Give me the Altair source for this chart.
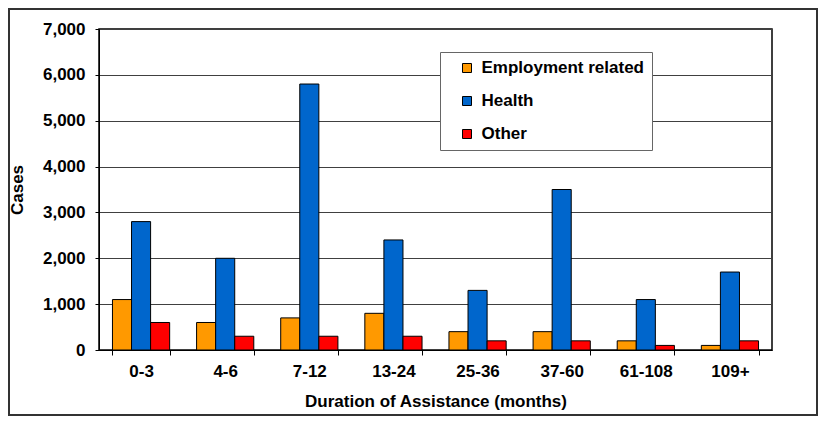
import altair as alt
import pandas as pd

durations = ["0-3", "4-6", "7-12", "13-24", "25-36", "37-60", "61-108", "109+"]
categories = ["Employment related", "Health", "Other"]
employment = [1100, 600, 700, 800, 400, 400, 200, 100]
health = [2800, 2000, 5800, 2400, 1300, 3500, 1100, 1700]
other = [600, 300, 300, 300, 200, 200, 100, 200]
colors = ["#FF9900", "#0066CC", "#FF0000"]
y_ticks = [0, 1000, 2000, 3000, 4000, 5000, 6000, 7000]

rows = []
for series_name, series in zip(categories, [employment, health, other]):
    for d, v in zip(durations, series):
        rows.append({"duration": d, "category": series_name, "value": v})
df = pd.DataFrame(rows)

FONT = "Liberation Sans"
FS = 17
W, H = 673, 321

bars = alt.Chart(df).mark_bar(stroke="black", strokeWidth=1).encode(
    x=alt.X(
        "duration:N",
        sort=durations,
        scale=alt.Scale(paddingInner=0.32, paddingOuter=0.16),
        axis=alt.Axis(
            title="Duration of Assistance (months)",
            labelAngle=0,
            tickBand="extent",
            tickSize=5,
            tickColor="black",
            domainColor="black",
            labelFont=FONT,
            labelFontSize=FS,
            labelFontWeight="bold",
            labelColor="black",
            labelPadding=8,
            titleFont=FONT,
            titleFontSize=FS,
            titleFontWeight="bold",
            titleColor="black",
            titlePadding=14,
        ),
    ),
    xOffset=alt.XOffset("category:N", sort=categories, scale=alt.Scale(paddingInner=0, paddingOuter=0)),
    y=alt.Y(
        "value:Q",
        scale=alt.Scale(domain=[0, 7000], nice=False),
        axis=alt.Axis(
            title="Cases",
            values=y_ticks,
            format=",.0f",
            grid=True,
            gridColor="#404040",
            gridWidth=1,
            tickSize=4,
            tickColor="black",
            domainColor="black",
            labelFont=FONT,
            labelFontSize=FS,
            labelFontWeight="bold",
            labelColor="black",
            labelPadding=10,
            titleFont=FONT,
            titleFontSize=FS,
            titleFontWeight="bold",
            titleColor="black",
            titlePadding=16,
        ),
    ),
    color=alt.Color(
        "category:N",
        sort=categories,
        scale=alt.Scale(domain=categories, range=colors),
        legend=alt.Legend(
            title=None,
            orient="none",
            legendX=341,
            legendY=23,
            fillColor="white",
            strokeColor="#666666",
            padding=7.5,
            symbolOffset=11,
            rowPadding=15,
            symbolType="square",
            symbolSize=81,
            symbolStrokeColor="black",
            symbolStrokeWidth=1,
            symbolOpacity=1,
            labelFont=FONT,
            labelFontSize=FS,
            labelFontWeight="bold",
            labelColor="black",
            labelOffset=6,
            labelLimit=400,
            labelExpr="datum.label == 'Employment related' ? datum.label + '\u00a0\u00a0' : datum.label",
        ),
    ),
)

frame = alt.Chart(pd.DataFrame({"f": [0]})).mark_rect(
    fill="white", fillOpacity=0, stroke="#333333", strokeWidth=2
).encode(
    x=alt.value(-90), x2=alt.value(W + 45), y=alt.value(-20), y2=alt.value(H + 65)
)

chart = alt.layer(bars, frame).properties(
    width=W,
    height=H,
    autosize=alt.AutoSizeParams(type="none"),
    padding={"left": 91, "top": 21, "right": 47, "bottom": 66},
    background="white",
).configure_view(stroke="black", strokeWidth=1.5)

chart.save("out.html", embed_options={"renderer": "svg", "actions": False})
